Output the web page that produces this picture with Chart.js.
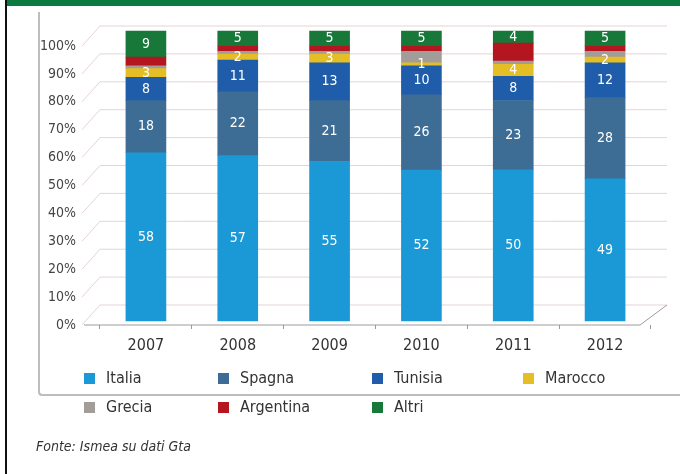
<!DOCTYPE html>
<html>
<head>
<meta charset="utf-8">
<script src="https://cdn.jsdelivr.net/npm/chart.js@4"></script>
<style>
  body { margin: 0; width: 680px; height: 474px; position: relative; background: #fff; overflow: hidden;
         font-family: 'Liberation Sans Narrow', 'DejaVu Sans Condensed', sans-serif; }
  .band { position: absolute; left: 5px; top: 0; right: 0; height: 6px; background: #0b7a3e; }
  .vline { position: absolute; left: 5px; top: 0; width: 2px; height: 474px; background: #111; }
  .box { position: absolute; left: 38px; top: 12px; width: 700px; height: 382px;
         border-left: 2px solid #bdbdbd; border-bottom: 2px solid #bdbdbd; border-bottom-left-radius: 4px; }
  canvas { position: absolute; left: 0; top: 0; }
  .item { position: absolute; font-size: 16px; color: #333; line-height: 16px; white-space: nowrap; }
  .item i { display: inline-block; width: 11px; height: 11px; margin-right: 11px; vertical-align: -1px; }
  .source { position: absolute; left: 36px; top: 438px; font-size: 14px; font-style: italic; color: #333; }
</style>
</head>
<body>
<div class="band"></div>
<div class="vline"></div>
<div class="box"></div>
<canvas id="chart" width="680" height="474"></canvas>
<div id="legend"></div>
<div class="source">Fonte: Ismea su dati Gta</div>
<script>
// Quote per paese (%)
const years = ['2007', '2008', '2009', '2010', '2011', '2012'];
const italia = [58, 57, 55, 52, 50, 49];
const spagna = [18, 22, 21, 26, 23, 28];
const tunisia = [8, 11, 13, 10, 8, 12];
const marocco = [3, 2, 3, 1, 4, 2];
const grecia = [1, 1, 1, 4, 1, 2];
const argentina = [3, 2, 2, 2, 6, 2];
const altri = [9, 5, 5, 5, 4, 5];

const seriesNames = ['Italia', 'Spagna', 'Tunisia', 'Marocco', 'Grecia', 'Argentina', 'Altri'];
const seriesValues = [italia, spagna, tunisia, marocco, grecia, argentina, altri];
const seriesColors = ['#1b99d6', '#3d6d94', '#1f5dab', '#e5be25', '#a39d99', '#b3161f', '#17783a'];
const labelled = ['Italia', 'Spagna', 'Tunisia', 'Marocco', 'Altri'];

// 100% stacked: each year is scaled to its total
const totals = years.map((y, i) => seriesValues.reduce((s, arr) => s + arr[i], 0));

const FONT = "'Liberation Sans Narrow', 'DejaVu Sans Condensed', sans-serif";
Chart.defaults.font.family = FONT;

// no extra label padding, so the plot area sits where the layout says
function noPad(s) {
    s.paddingTop = 0; s.paddingBottom = 0; s.paddingLeft = 0; s.paddingRight = 0;
}

// back wall gridlines + floor, drawn behind the bars
const wall = {
    id: 'wall',
    beforeDatasetsDraw(chart) {
        const ctx = chart.ctx, a = chart.chartArea, y = chart.scales.y;
        const depth = 20;
        ctx.save();
        ctx.lineWidth = 1;
        ctx.strokeStyle = 'rgba(222,200,205,0.8)';
        for (let v = 0; v <= 100; v += 10) {
            const yf = y.getPixelForValue(v);
            ctx.beginPath();
            ctx.moveTo(a.left - 18, yf);
            ctx.lineTo(a.left, yf - depth);
            ctx.lineTo(a.right + 16, yf - depth);
            ctx.stroke();
        }
        ctx.strokeStyle = '#9c9c9c';
        ctx.beginPath();
        ctx.moveTo(a.left - 16, a.bottom);
        ctx.lineTo(a.right - 11, a.bottom);
        ctx.lineTo(a.right + 16, a.bottom - depth);
        ctx.stroke();
        ctx.restore();
    },
    afterDatasetsDraw(chart) {
        const ctx = chart.ctx;
        ctx.save();
        ctx.fillStyle = '#fff';
        ctx.font = '14px ' + FONT;
        ctx.textAlign = 'center';
        ctx.textBaseline = 'middle';
        chart.data.datasets.forEach((ds, di) => {
            if (!labelled.includes(ds.label)) return;
            chart.getDatasetMeta(di).data.forEach((bar, i) => {
                ctx.fillText(String(ds.raw[i]), bar.x, (bar.y + bar.base) / 2);
            });
        });
        ctx.restore();
    }
};

const chart = new Chart(document.getElementById('chart'), {
    type: 'bar',
    data: {
        labels: years,
        datasets: seriesNames.map((name, k) => ({
            label: name,
            raw: seriesValues[k],
            data: seriesValues[k].map((v, i) => v / totals[i] * 100),
            backgroundColor: seriesColors[k],
            yAxisID: 'yBar',
            barThickness: 40
        }))
    },
    options: {
        responsive: false,
        animation: false,
        layout: { padding: { top: 26, right: 29, bottom: 0, left: 0 } },
        plugins: { legend: { display: false }, tooltip: { enabled: false } },
        scales: {
            x: {
                stacked: true,
                offset: true,
                grid: { drawOnChartArea: false, drawTicks: true, tickLength: 4, color: '#999', offset: true },
                border: { display: false },
                ticks: { color: '#333', font: { size: 16 }, padding: 7 },
                afterFit: s => { s.height = 149; noPad(s); }
            },
            y: {
                position: 'left',
                min: 0,
                max: 107.17,
                grid: { display: false, drawTicks: false },
                border: { display: false },
                ticks: { stepSize: 10, padding: 24, color: '#444', font: { size: 14 }, callback: v => v + '%' },
                afterBuildTicks: s => { s.ticks = s.ticks.filter(t => t.value <= 100); },
                afterFit: s => { s.width = 100; noPad(s); }
            },
            yBar: {
                display: false,
                stacked: true,
                min: -1.38,
                max: 101.72
            }
        }
    },
    plugins: [wall]
});

// legend: two rows in fixed columns
const cols = [84, 218, 372, 523];
const rows = [370, 399];
const legend = document.getElementById('legend');
seriesNames.forEach((name, k) => {
    const el = document.createElement('div');
    el.className = 'item';
    el.style.left = cols[k % 4] + 'px';
    el.style.top = rows[Math.floor(k / 4)] + 'px';
    el.innerHTML = '<i style="background:' + seriesColors[k] + '"></i>' + name;
    legend.appendChild(el);
});
</script>
</body>
</html>
